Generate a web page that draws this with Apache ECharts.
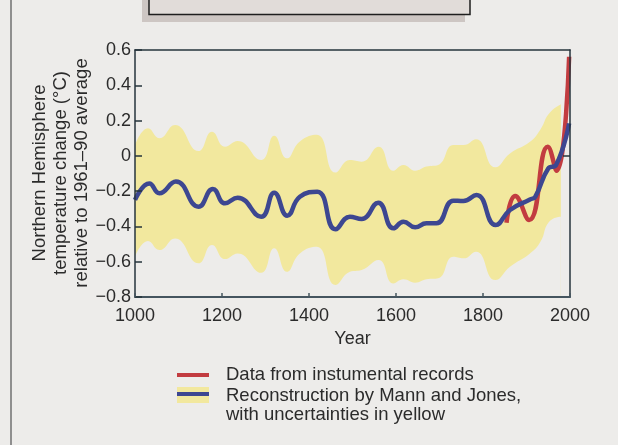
<!DOCTYPE html>
<html>
<head>
<meta charset="utf-8">
<script src="https://cdn.jsdelivr.net/npm/echarts@6/dist/echarts.min.js"></script>
<style>
html,body{margin:0;padding:0;background:#edecea;}
#chart{width:618px;height:445px;}
</style>
</head>
<body>
<div id="chart"></div>
<script>
// ---- data ----
const reconYears = [1000,1033,1056,1094,1146,1179,1207,1236,1290,1320,1350,1379,1419,1461,1494,1521,1559,1594,1617,1644,1670,1693,1732,1755,1785,1829,1862,1908,1920,1950,1968,1998];
const reconValues = [-0.25,-0.156,-0.212,-0.146,-0.288,-0.188,-0.269,-0.237,-0.345,-0.209,-0.339,-0.232,-0.203,-0.416,-0.345,-0.358,-0.266,-0.411,-0.373,-0.405,-0.382,-0.382,-0.254,-0.256,-0.222,-0.392,-0.307,-0.247,-0.232,-0.071,-0.052,0.184];

const instYears = [1854,1874,1906,1949,1969,1998];
const instValues = [-0.379,-0.228,-0.364,0.052,-0.084,0.562];

const bandYears = [1000,1030,1056,1092,1146,1177,1207,1236,1290,1320,1349,1379,1418,1461,1494,1521,1560,1594,1617,1644,1670,1697,1732,1755,1784,1828,1862,1908,1932,1952,1979];
const bandUpper = [0.06,0.156,0.10,0.175,0.027,0.137,0.052,0.084,-0.024,0.114,-0.014,0.082,0.12,-0.095,-0.024,-0.033,0.052,-0.084,-0.052,-0.084,-0.061,-0.052,0.061,0.061,0.094,-0.065,0.014,0.08,0.15,0.24,0.292];
const bandLower = [-0.572,-0.483,-0.534,-0.468,-0.609,-0.505,-0.585,-0.553,-0.663,-0.524,-0.657,-0.553,-0.515,-0.732,-0.657,-0.647,-0.59,-0.723,-0.70,-0.719,-0.70,-0.694,-0.572,-0.581,-0.543,-0.704,-0.628,-0.553,-0.487,-0.373,-0.345];

const yTickLabels = {'0.6':'0.6','0.4':'0.4','0.2':'0.2','0':'0','-0.2':'\u22120.2','-0.4':'\u22120.4','-0.6':'\u22120.6','-0.8':'\u22120.8'};
const xAxisName = 'Year';
const yAxisName = 'Northern Hemisphere\ntemperature change (\u00B0C)\nrelative to 1961\u201390 average';
const legendInst = 'Data from instumental records';
const legendRecon = 'Reconstruction by Mann and Jones,\nwith uncertainties in yellow';

// ---- build ----
const FONT = '"Liberation Sans", Arial, Helvetica, sans-serif';
const TXT = '#2b2b2b';
const RED = '#c23c40';
const BLUE = '#3d4791';
const YELLOW = '#f2e89e';
const BG = '#edecea';
const AXIS = '#26343c';

const recon = reconYears.map((y,i)=>[y,reconValues[i]]);
const inst = instYears.map((y,i)=>[y,instValues[i]]);
const upper = bandYears.map((y,i)=>[y,bandUpper[i]]);
const lower = bandYears.map((y,i)=>[y,bandLower[i]]);

const chart = echarts.init(document.getElementById('chart'), null, {renderer:'canvas'});
chart.setOption({
  backgroundColor:BG,
  animation:false,
  grid:{left:135,right:48,top:50,bottom:148,containLabel:false},
  xAxis:[{
    type:'value',min:1000,max:2000,interval:200,z:10,
    name:xAxisName,nameLocation:'middle',nameGap:31,
    nameTextStyle:{fontFamily:FONT,fontSize:18,color:TXT},
    axisLine:{show:true,onZero:false,lineStyle:{color:'#45555f',width:2}},
    axisTick:{show:true,inside:true,length:4,lineStyle:{color:'#45555f',width:1.5}},
    axisLabel:{fontFamily:FONT,fontSize:18,color:TXT,margin:10,formatter:v=>String(v)},
    splitLine:{show:false}
  },{
    type:'value',min:1000,max:2000,position:'top',z:10,
    axisLine:{show:true,onZero:false,lineStyle:{color:AXIS,width:1.5}},
    axisTick:{show:false},axisLabel:{show:false},splitLine:{show:false}
  }],
  yAxis:[{
    type:'value',min:-0.8,max:0.6,interval:0.2,z:10,
    axisLine:{show:true,onZero:false,lineStyle:{color:AXIS,width:1.5}},
    axisTick:{show:true,inside:true,length:7,lineStyle:{color:AXIS,width:1.5}},
    axisLabel:{fontFamily:FONT,fontSize:18,color:TXT,margin:4,
      formatter:v=>{const k=String(Math.round(v*10)/10);return yTickLabels[k]!==undefined?yTickLabels[k]:k;}},
    splitLine:{show:false}
  },{
    type:'value',min:-0.8,max:0.6,position:'right',z:10,
    axisLine:{show:true,onZero:false,lineStyle:{color:AXIS,width:1.5}},
    axisTick:{show:true,inside:true,length:7,customValues:[0],lineStyle:{color:AXIS,width:1.5}},
    axisLabel:{show:false},splitLine:{show:false}
  }],
  series:[
    {type:'line',data:upper,smooth:0.5,symbol:'none',
     lineStyle:{width:0,opacity:0},areaStyle:{color:YELLOW,opacity:1,origin:'start'},silent:true,z:1},
    {type:'line',data:lower,smooth:0.5,symbol:'none',
     lineStyle:{width:0,opacity:0},areaStyle:{color:BG,opacity:1,origin:'start'},silent:true,z:1},
    {type:'line',data:inst,smooth:0.5,symbol:'none',lineStyle:{color:RED,width:4.5},z:3},
    {type:'line',data:recon,smooth:0.5,symbol:'none',lineStyle:{color:BLUE,width:4.5},z:4}
  ],
  graphic:[
    {type:'rect',shape:{x:10,y:0,width:2,height:445},style:{fill:'#8f8f8f'},silent:true},
    {type:'rect',shape:{x:142,y:0,width:323,height:22},style:{fill:'#cdc6c3'},silent:true},
    {type:'rect',shape:{x:149,y:-3,width:321,height:17.5},style:{fill:'#e1dcd9',stroke:'#1e1e1e',lineWidth:1.5},silent:true},
    {type:'text',rotation:Math.PI/2,x:61,y:173,
     style:{text:yAxisName,font:'18.5px '+FONT,fill:TXT,align:'center',verticalAlign:'middle',lineHeight:21}},
    {type:'rect',shape:{x:177,y:373,width:32,height:4},style:{fill:RED},silent:true},
    {type:'rect',shape:{x:177,y:387,width:32,height:16},style:{fill:YELLOW},silent:true},
    {type:'rect',shape:{x:177,y:392,width:32,height:4},style:{fill:BLUE},silent:true},
    {type:'text',x:226,y:375,style:{text:legendInst,font:'18.5px '+FONT,fill:TXT,verticalAlign:'middle'}},
    {type:'text',x:226,y:386,style:{text:legendRecon,font:'18.5px '+FONT,fill:TXT,verticalAlign:'top',lineHeight:19.5}}
  ]
});
</script>
</body>
</html>
